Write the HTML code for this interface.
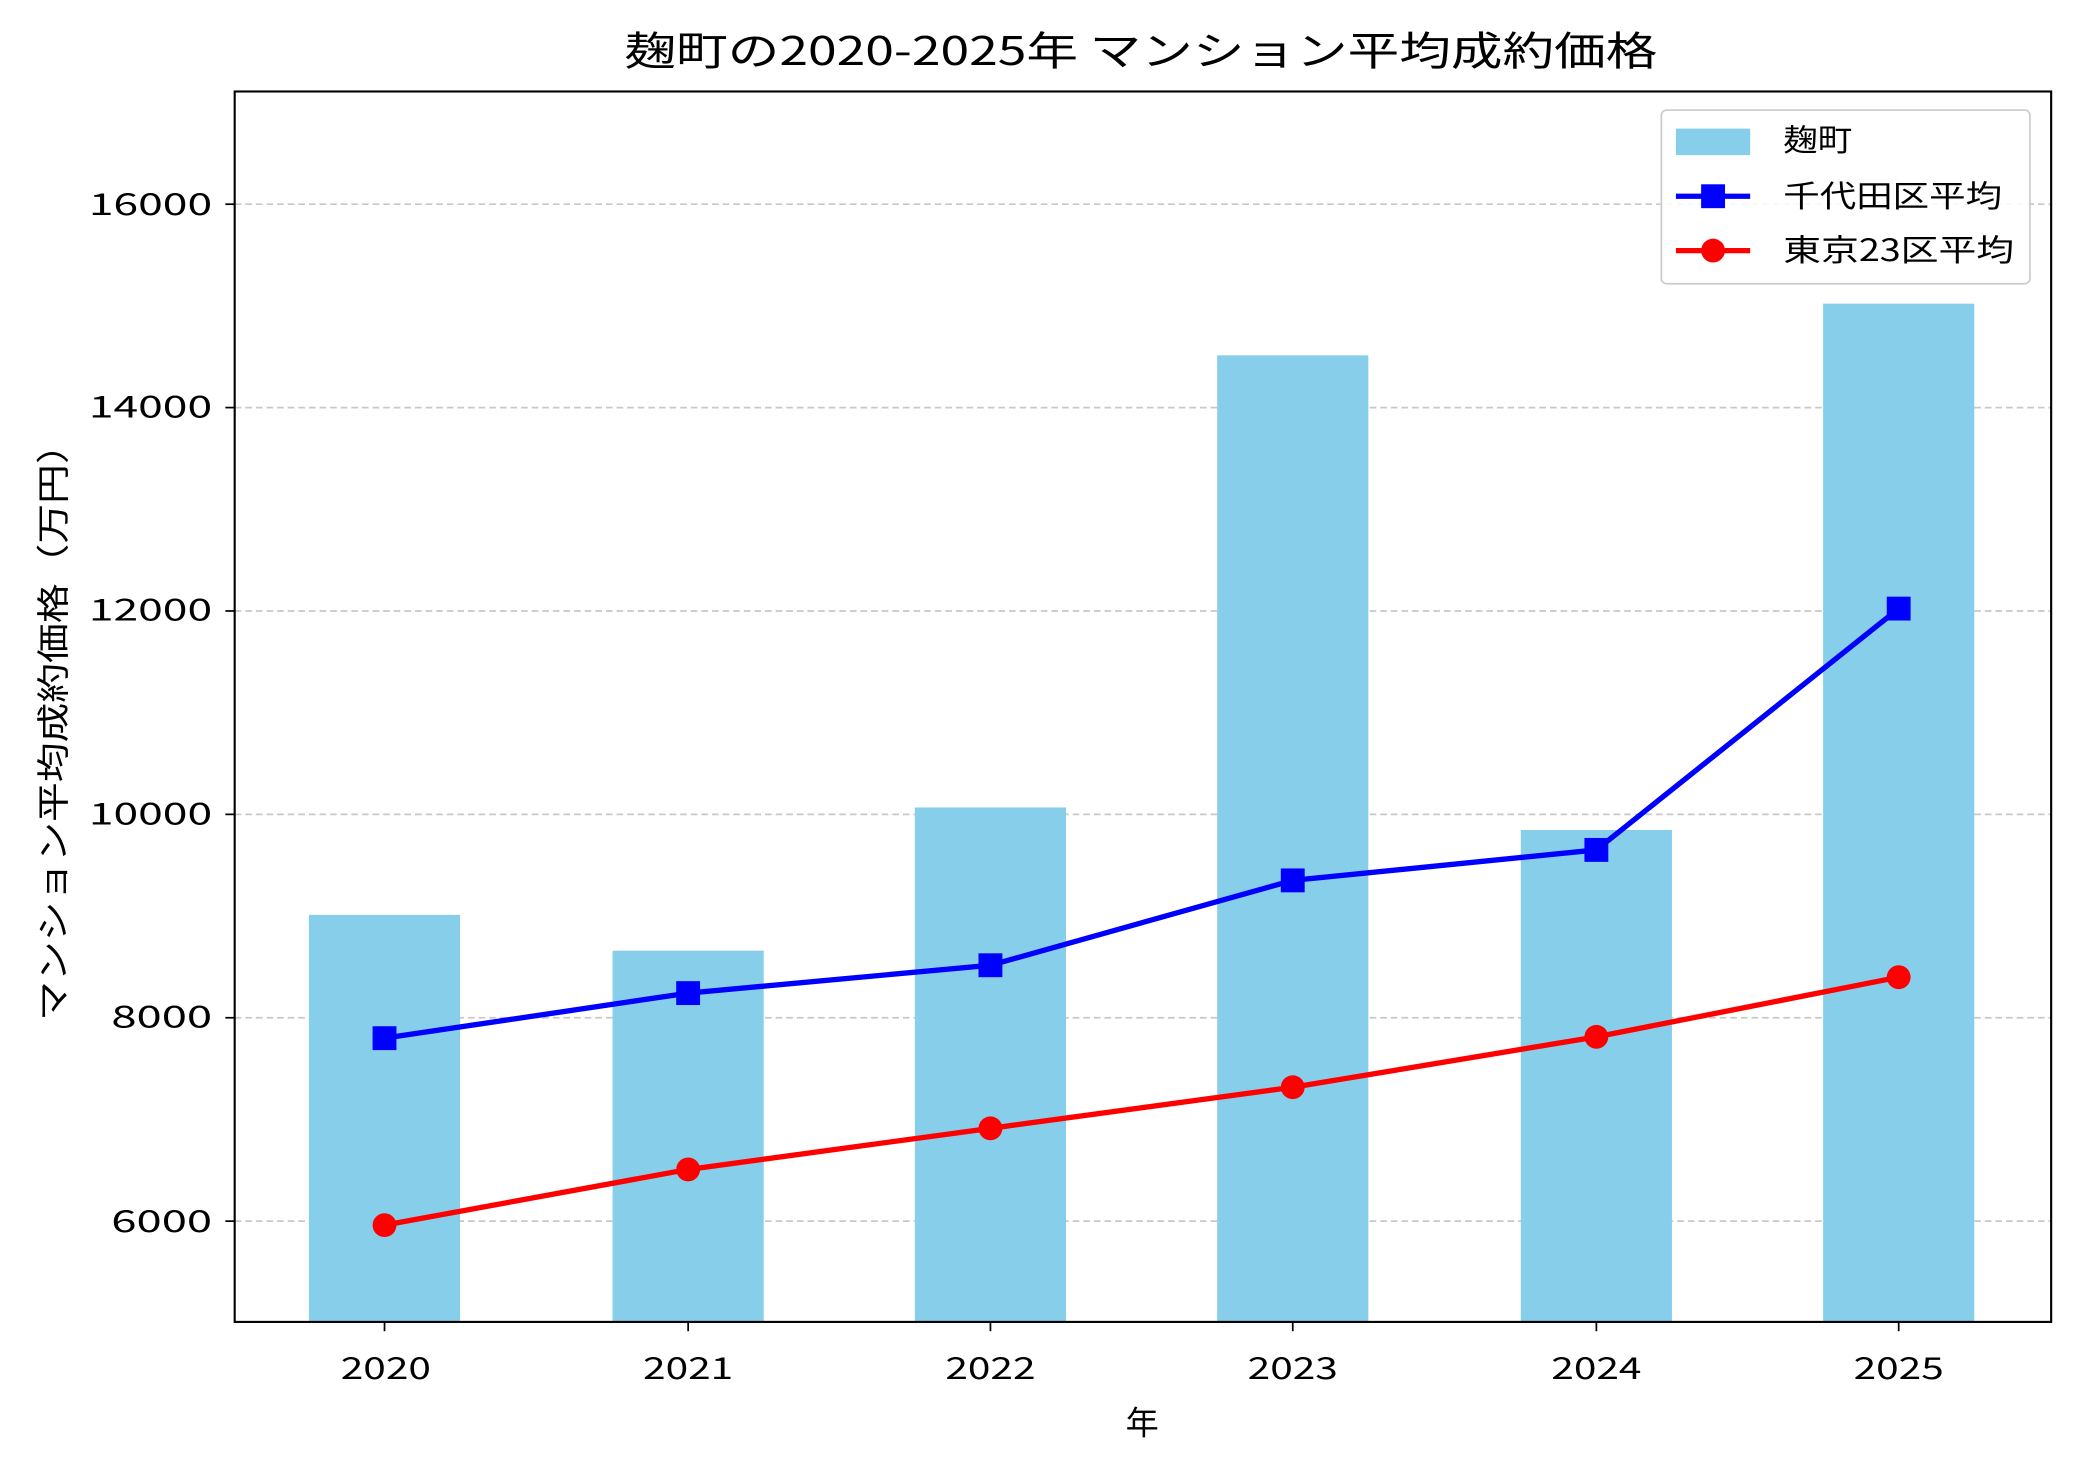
<!DOCTYPE html>
<html><head><meta charset="utf-8"><style>html,body{margin:0;padding:0;background:#fff}svg{display:block}text{font-family:"Noto Sans CJK JP","Liberation Sans",sans-serif;fill:#000}</style></head>
<body>
<svg width="2079" height="1474" viewBox="0 0 1568 1111.7" xmlns="http://www.w3.org/2000/svg">
<rect width="1568" height="1112" fill="#fff"/>
<text x="471" y="49" font-size="30" textLength="779" lengthAdjust="spacingAndGlyphs">麹町の2020-2025年 マンション平均成約価格</text>
<g stroke="#c8c8c8" stroke-width="1.3" stroke-dasharray="5,3">
<line x1="177" x2="1547" y1="921" y2="921"/><line x1="177" x2="1547" y1="767.6" y2="767.6"/>
<line x1="177" x2="1547" y1="614.2" y2="614.2"/><line x1="177" x2="1547" y1="460.8" y2="460.8"/>
<line x1="177" x2="1547" y1="307.4" y2="307.4"/><line x1="177" x2="1547" y1="154" y2="154"/>
</g>
<g fill="#87ceeb">
<rect x="233" y="690" width="114" height="307"/><rect x="462" y="717" width="114" height="280"/>
<rect x="690" y="609" width="114" height="388"/><rect x="918" y="268" width="114" height="729"/>
<rect x="1147" y="626" width="114" height="371"/><rect x="1375" y="229" width="114" height="768"/>
</g>
<polyline fill="none" stroke="#0000ff" stroke-width="4" points="290,783 519,749 747,728 975,664 1204,641 1432,459"/>
<g fill="#0000ff">
<rect x="281" y="774" width="18" height="18"/><rect x="510" y="740" width="18" height="18"/><rect x="738" y="719" width="18" height="18"/>
<rect x="966" y="655" width="18" height="18"/><rect x="1195" y="632" width="18" height="18"/><rect x="1423" y="450" width="18" height="18"/>
</g>
<polyline fill="none" stroke="#ff0000" stroke-width="4" points="290,924 519,882 747,851 975,820 1204,782 1432,737"/>
<g fill="#ff0000">
<circle cx="290" cy="924" r="9"/><circle cx="519" cy="882" r="9"/><circle cx="747" cy="851" r="9"/>
<circle cx="975" cy="820" r="9"/><circle cx="1204" cy="782" r="9"/><circle cx="1432" cy="737" r="9"/>
</g>
<rect x="177" y="69" width="1370" height="928" fill="none" stroke="#000" stroke-width="1.6"/>
<g stroke="#000" stroke-width="1.3">
<line x1="290" x2="290" y1="997" y2="1004"/><line x1="519" x2="519" y1="997" y2="1004"/><line x1="747" x2="747" y1="997" y2="1004"/>
<line x1="975" x2="975" y1="997" y2="1004"/><line x1="1204" x2="1204" y1="997" y2="1004"/><line x1="1432" x2="1432" y1="997" y2="1004"/>
<line x1="170" x2="177" y1="921" y2="921"/><line x1="170" x2="177" y1="767.6" y2="767.6"/><line x1="170" x2="177" y1="614.2" y2="614.2"/>
<line x1="170" x2="177" y1="460.8" y2="460.8"/><line x1="170" x2="177" y1="307.4" y2="307.4"/><line x1="170" x2="177" y1="154" y2="154"/>
</g>
<g font-size="23">
<text x="257" y="1040" textLength="68" lengthAdjust="spacingAndGlyphs">2020</text>
<text x="485" y="1040" textLength="68" lengthAdjust="spacingAndGlyphs">2021</text>
<text x="713" y="1040" textLength="68" lengthAdjust="spacingAndGlyphs">2022</text>
<text x="941" y="1040" textLength="68" lengthAdjust="spacingAndGlyphs">2023</text>
<text x="1170" y="1040" textLength="68" lengthAdjust="spacingAndGlyphs">2024</text>
<text x="1398" y="1040" textLength="68" lengthAdjust="spacingAndGlyphs">2025</text>
<text x="849" y="1082" font-size="25" textLength="26">年</text>
</g>
<g font-size="23">
<text x="84" y="929" textLength="76" lengthAdjust="spacingAndGlyphs">6000</text>
<text x="84" y="775" textLength="76" lengthAdjust="spacingAndGlyphs">8000</text>
<text x="67" y="622" textLength="93" lengthAdjust="spacingAndGlyphs">10000</text>
<text x="67" y="468" textLength="93" lengthAdjust="spacingAndGlyphs">12000</text>
<text x="67" y="315" textLength="93" lengthAdjust="spacingAndGlyphs">14000</text>
<text x="67" y="162" textLength="93" lengthAdjust="spacingAndGlyphs">16000</text>
</g>
<text transform="translate(49,770) rotate(-90)" font-size="25" textLength="450" lengthAdjust="spacingAndGlyphs">マンション平均成約価格（万円）</text>
<rect x="1253" y="83" width="278" height="131" rx="4" fill="#fff" fill-opacity="0.85" stroke="#ccc" stroke-width="1.3"/>
<rect x="1264" y="97" width="56" height="20" fill="#87ceeb"/>
<line x1="1264" x2="1320" y1="148" y2="148" stroke="#0000ff" stroke-width="4"/><rect x="1283" y="139" width="18" height="18" fill="#0000ff"/>
<line x1="1264" x2="1320" y1="189" y2="189" stroke="#ff0000" stroke-width="4"/><circle cx="1292" cy="189" r="9" fill="#ff0000"/>
<g font-size="23">
<text x="1345" y="114" textLength="52" lengthAdjust="spacingAndGlyphs">麹町</text>
<text x="1345" y="156" textLength="165" lengthAdjust="spacingAndGlyphs">千代田区平均</text>
<text x="1345" y="197" textLength="174" lengthAdjust="spacingAndGlyphs">東京23区平均</text>
</g>
</svg>
</body></html>
